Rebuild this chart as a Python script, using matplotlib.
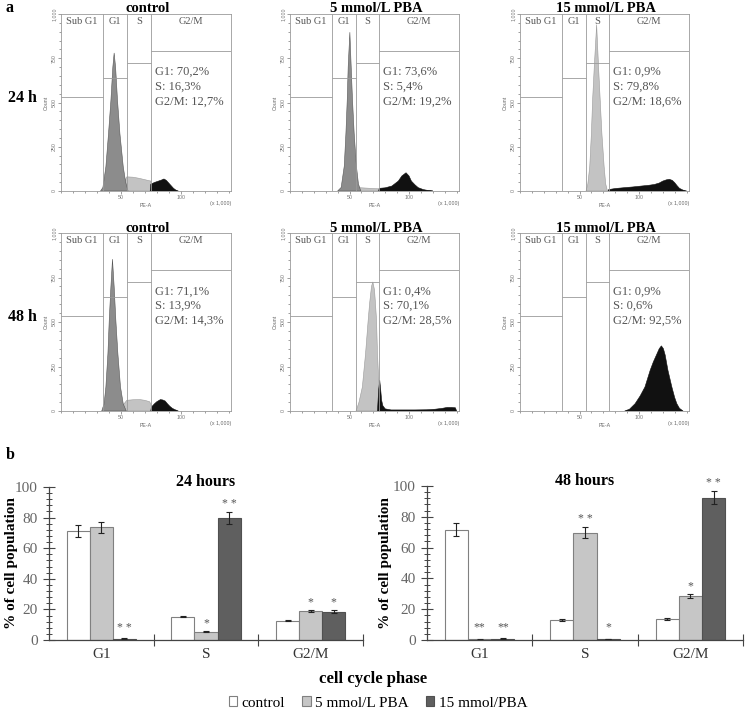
import matplotlib.pyplot as plt
from matplotlib.patches import Patch
from matplotlib.ticker import MultipleLocator, FixedLocator

plt.rcParams['font.family'] = ['Liberation Serif', 'DejaVu Serif']

# ---- panel a: cell cycle histograms (PE-A x1000, counts) ----
# each component is a list of (PE-A, count) points
CTRL24_S = [(49, 0), (52, 40), (55, 80), (60, 78), (65, 72), (70, 64), (75, 56), (75.5, 0)]
CTRL24_G1 = [(33, 0), (35, 20), (37.5, 137), (39.7, 325), (41.7, 512), (43.3, 700), (44.4, 780),
             (45.6, 700), (47.2, 512), (49.2, 325), (52, 137), (54, 50), (56, 0)]
CTRL24_G2 = [(74.5, 0), (75, 38), (78, 48), (81, 55), (84, 62), (86, 68), (88, 60), (90, 45),
             (92, 30), (94, 15), (96, 5), (98, 0)]

PBA5_24_S = [(54, 0), (56, 20), (60, 18), (65, 16), (70, 14), (75, 12), (75.5, 0)]
PBA5_24_G1 = [(40, 0), (43, 20), (45.6, 141), (47, 328), (48.1, 516), (48.9, 704), (50.3, 897),
              (51.4, 704), (52.5, 516), (53.9, 328), (55.8, 141), (57.5, 40), (59.5, 0)]
PBA5_24_G2 = [(74.5, 0), (75, 15), (80, 18), (85.6, 28), (91, 56), (94, 85), (97.5, 103), (100, 85),
              (102, 56), (105, 35), (107.7, 19), (112, 8), (116, 3), (120, 0)]

PBA15_24_S = [(55.5, 0), (57, 40), (58.6, 137), (60, 325), (61, 512), (62.4, 700), (64.4, 940),
              (66, 700), (67.4, 512), (68.8, 325), (70.7, 137), (72, 40), (73.5, 0)]
PBA15_24_G1 = []
PBA15_24_G2 = [(74, 0), (74.5, 8), (80, 14), (88, 19), (95, 23), (102, 28), (108, 32), (113, 37),
               (117, 45), (120, 56), (123, 63), (125.5, 66), (128, 60), (130, 47), (132, 30),
               (134, 15), (137, 5), (140, 0)]

CTRL48_S = [(49, 0), (52, 35), (55, 60), (60, 63), (66, 64), (70, 60), (74, 52), (75, 40), (76, 0)]
CTRL48_G1 = [(34, 0), (36, 40), (37.5, 135), (39.2, 323), (40.3, 511), (41.7, 699), (43, 853),
             (44.4, 699), (45.8, 511), (47.5, 323), (49.7, 135), (52, 40), (54.5, 0)]
CTRL48_G2 = [(75, 0), (75.5, 22), (78, 40), (80, 52), (83, 64), (85, 62), (87, 56), (89, 40),
             (91, 26), (93, 15), (95, 8), (98, 0)]

PBA5_48_S = [(55.5, 0), (58, 50), (60.8, 135), (63.5, 323), (65.7, 511), (66.9, 605), (68.5, 700),
             (69.6, 725), (71, 680), (71.8, 605), (72.7, 511), (73.5, 323), (74.5, 180),
             (75.5, 60), (76.5, 0)]
PBA5_48_G1 = []
PBA5_48_G2 = [(73.5, 0), (74.5, 120), (75.4, 173), (76.2, 120), (77, 60), (78, 30), (80, 12),
              (85, 6), (95, 6), (105, 6), (115, 7), (122, 10), (128, 15), (132, 20), (136, 20),
              (139, 18), (140, 0)]

PBA15_48_S = []
PBA15_48_G1 = []
PBA15_48_G2 = [(88, 0), (92, 10), (96.7, 41), (101, 85), (105, 135), (109.4, 229), (112, 275),
               (114.6, 314), (117, 350), (118.8, 366), (120.5, 350), (122, 314), (124.3, 229),
               (127.6, 135), (130, 75), (131.8, 41), (134, 15), (137, 0)]

PCT_CTRL24 = ['70,2', '16,3', '12,7']
PCT_PBA5_24 = ['73,6', '5,4', '19,2']
PCT_PBA15_24 = ['0,9', '79,8', '18,6']
PCT_CTRL48 = ['71,1', '13,9', '14,3']
PCT_PBA5_48 = ['0,4', '70,1', '28,5']
PCT_PBA15_48 = ['0,9', '0,6', '92,5']

HIST_TITLES = ['control', '5 mmol/L PBA', '15 mmol/L PBA']
ROW_LABELS = ['24 h', '48 h']

GATE_NAMES = ['Sub G1', 'G1', 'S', 'G2/M']
GATE_EDGES = [35, 55.5, 75]
GATE_LEVELS = [533, 640, 725, 793]

# ---- panel b: bar charts ----
PHASES = ['G1', 'S', 'G2/M']
GROUPS = ['control', '5 mmol/L PBA', '15 mmol/PBA']
MEAN_24 = [[71.0, 15.3, 12.7], [73.6, 5.4, 19.2], [0.9, 79.8, 18.6]]
ERR_24 = [[3.9, 0.5, 0.5], [3.8, 0.3, 0.6], [0.3, 4.0, 1.2]]
STARS_24 = [['', '', ''], ['', '*', '*'], ['* *', '* *', '*']]
MEAN_48 = [[71.7, 13.0, 13.5], [0.4, 69.8, 28.5], [0.9, 0.6, 92.5]]
ERR_48 = [[4.2, 0.4, 0.5], [0.1, 3.8, 1.4], [0.2, 0.2, 4.5]]
STARS_48 = [['', '', ''], ['**', '* *', '*'], ['**', '*', '* *']]

BAR_COLORS = ['white', '#c6c6c6', '#5f5f5f']
BAR_EDGES = ['#808080', '#808080', '#505050']

W, H = 746, 710
fig = plt.figure(figsize=(W / 100, H / 100), dpi=100)


def add_ax(x0, y0, x1, y1):
    """axes from pixel box (top-left origin)"""
    return fig.add_axes([x0 / W, 1 - y1 / H, (x1 - x0) / W, (y1 - y0) / H])


def ftext(x, y, s, **kw):
    fig.text(x / W, 1 - y / H, s, **kw)


def draw_hist(ax, s_pts, g1_pts, g2_pts, pct):
    small = dict(family='Liberation Sans', fontsize=3.8, color='#666666')
    ax.set_xlim(0, 142)
    ax.set_ylim(0, 1000)
    for pts, fc, ec in [(s_pts, '#c3c3c3', '#9a9a9a'), (g1_pts, '#8c8c8c', '#555555'),
                        (g2_pts, '#111111', '#111111')]:
        if pts:
            xs, ys = zip(*pts)
            ax.fill(xs, ys, facecolor=fc, edgecolor=ec, lw=0.4, zorder=2)
    # gates
    ax.vlines(GATE_EDGES, 0, 1000, color='#9a9a9a', lw=0.6, zorder=3)
    bounds = [0] + GATE_EDGES + [142]
    for i, name in enumerate(GATE_NAMES):
        ax.hlines(GATE_LEVELS[i], bounds[i], bounds[i + 1], color='#9a9a9a', lw=0.6, zorder=3)
        ax.text((bounds[i] + bounds[i + 1]) / 2, 985, name, ha='center', va='top',
                fontsize=7.5, color='#555555')
    ax.text(78.5, 705, 'G1: %s%%\nS: %s%%\nG2/M: %s%%' % tuple(pct), ha='left', va='top',
            fontsize=9, color='#555555', linespacing=1.3)
    for sp in ax.spines.values():
        sp.set_color('#9a9a9a')
        sp.set_linewidth(0.6)
    ax.xaxis.set_major_locator(FixedLocator([50, 100]))
    ax.xaxis.set_minor_locator(MultipleLocator(10))
    ax.yaxis.set_major_locator(FixedLocator([0, 250, 500, 750, 1000]))
    ax.yaxis.set_minor_locator(MultipleLocator(50))
    ax.set_yticklabels(['0', '250', '500', '750', '1,000'], rotation=90, va='center', **small)
    ax.set_xticklabels(['50', '100'], **small)
    ax.tick_params(which='both', colors='#777777', width=0.5, length=2, pad=1)
    ax.tick_params(which='minor', length=1.2)
    ax.set_xlabel('PE-A', labelpad=2, **small)
    ax.set_ylabel('Count', labelpad=2, **small)
    ax.text(1.0, -0.055, '(x 1,000)', transform=ax.transAxes, ha='right', va='top', **small)


hist_data = [
    [(CTRL24_S, CTRL24_G1, CTRL24_G2, PCT_CTRL24),
     (PBA5_24_S, PBA5_24_G1, PBA5_24_G2, PCT_PBA5_24),
     (PBA15_24_S, PBA15_24_G1, PBA15_24_G2, PCT_PBA15_24)],
    [(CTRL48_S, CTRL48_G1, CTRL48_G2, PCT_CTRL48),
     (PBA5_48_S, PBA5_48_G1, PBA5_48_G2, PCT_PBA5_48),
     (PBA15_48_S, PBA15_48_G1, PBA15_48_G2, PCT_PBA15_48)],
]
col_px = [(61, 231), (290, 459), (520, 689)]
row_px = [(14, 191), (233, 411)]
for r in range(2):
    for c in range(3):
        x0, x1 = col_px[c]
        y0, y1 = row_px[r]
        ax = add_ax(x0, y0, x1, y1)
        draw_hist(ax, *hist_data[r][c])
        ftext((x0 + x1) / 2 + 2, y0 - 1.5, HIST_TITLES[c], ha='center', va='baseline',
              fontsize=10.5, fontweight='bold')
    ftext(22, (row_px[r][0] + row_px[r][1]) / 2 - 5, ROW_LABELS[r], ha='center', va='center',
          fontsize=11.5, fontweight='bold')

ftext(6, 8, 'a', ha='left', va='center', fontsize=11.5, fontweight='bold')
ftext(6, 455, 'b', ha='left', va='center', fontsize=11.5, fontweight='bold')


def draw_bars(ax, means, errs, stars, title):
    width = 0.22
    for g in range(3):
        xs = [i + (g - 1) * width for i in range(3)]
        ax.bar(xs, means[g], width, color=BAR_COLORS[g], edgecolor=BAR_EDGES[g], lw=0.8,
               yerr=errs[g], error_kw=dict(ecolor='#222222', elinewidth=0.8, capsize=2.2,
                                           capthick=0.8), zorder=2)
        for i in range(3):
            if stars[g][i]:
                y = max(means[g][i] + errs[g][i] + 5, 8)
                ax.text(xs[i], y, stars[g][i], ha='center', va='center', fontsize=8.5,
                        color='#555555', clip_on=False)
    ax.set_xlim(-0.5, 2.5)
    ax.set_ylim(0, 100)
    for sp in ['top', 'right']:
        ax.spines[sp].set_visible(False)
    for sp in ['left', 'bottom']:
        ax.spines[sp].set_color('#444444')
        ax.spines[sp].set_linewidth(0.9)
    ax.yaxis.set_major_locator(MultipleLocator(20))
    ax.yaxis.set_minor_locator(MultipleLocator(4))
    ax.xaxis.set_major_locator(FixedLocator([0.5, 1.5, 2.5]))
    ax.xaxis.set_minor_locator(FixedLocator([0, 1, 2]))
    ax.set_xticklabels([])
    ax.set_xticklabels(PHASES, minor=True)
    ax.tick_params(axis='y', which='major', direction='inout', length=8, width=0.8,
                   colors='#444444', labelsize=11, labelcolor='#666666', pad=4)
    ax.tick_params(axis='y', which='minor', direction='inout', length=5, width=0.7,
                   colors='#444444')
    ax.tick_params(axis='x', which='major', direction='inout', length=8, width=0.8,
                   colors='#444444')
    ax.tick_params(axis='x', which='minor', length=0, labelsize=11, labelcolor='#333333', pad=6)
    ax.text(0.5, 1.03, title, transform=ax.transAxes, ha='center', va='center',
            fontsize=11.5, fontweight='bold')


ax_l = add_ax(49, 487, 363, 640)
draw_bars(ax_l, MEAN_24, ERR_24, STARS_24, '24 hours')
ax_r = add_ax(427, 486, 743, 640)
draw_bars(ax_r, MEAN_48, ERR_48, STARS_48, '48 hours')

ftext(12, 563, '% of cell population', rotation=90, ha='center', va='center',
      fontsize=11, fontweight='bold')
ftext(386, 563, '% of cell population', rotation=90, ha='center', va='center',
      fontsize=11, fontweight='bold')
ftext(373, 679, 'cell cycle phase', ha='center', va='center', fontsize=12, fontweight='bold')

handles = [Patch(facecolor=BAR_COLORS[g], edgecolor=BAR_EDGES[g], lw=0.8) for g in range(3)]
fig.legend(handles, GROUPS, loc='center', bbox_to_anchor=(378 / W, 1 - 703 / H), ncol=3,
           frameon=False, fontsize=11, handlelength=0.55, handleheight=0.55, handletextpad=0.3,
           columnspacing=1.1, borderpad=0)

fig.savefig('out.png', dpi=100, facecolor='white')
